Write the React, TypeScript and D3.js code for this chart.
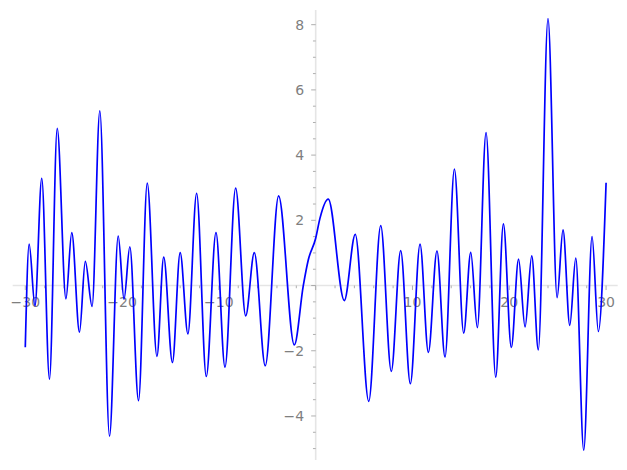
import React from 'react'
import * as d3 from 'd3'

// extrema and a few shoulder points
const xs = [
  -30.0, -29.6, -29.0, -28.3, -27.5, -26.7, -25.8, -25.2, -24.4, -23.8, -23.1, -22.3,
  -21.3, -20.4, -19.8, -19.2, -18.3, -17.4, -16.4, -15.7, -14.8, -14.0, -13.2, -12.3,
  -11.3, -10.3, -9.37, -8.27, -7.23, -6.34, -5.21, -3.83, -2.21, -1.28, -0.76, 0.0,
  0.44, 1.3, 2.96, 4.09, 5.48, 6.72, 7.81, 8.78, 9.78, 10.78, 11.64, 12.53, 13.36,
  14.33, 15.29, 16.02, 16.7, 17.6, 18.6, 19.39, 20.21, 20.96, 21.63, 22.32, 23.0,
  24.0, 24.94, 25.55, 26.25, 26.87, 27.69, 28.55, 29.2, 30.0,
]
const ys = [
  -1.89, 1.27, -0.62, 3.29, -2.87, 4.82, -0.41, 1.62, -1.43, 0.74, -0.64, 5.36,
  -4.62, 1.52, -0.42, 1.19, -3.53, 3.14, -2.17, 0.87, -2.36, 1.01, -1.48, 2.83,
  -2.79, 1.62, -2.5, 2.99, -0.93, 1.01, -2.46, 2.75, -1.82, 0.0, 0.79, 1.45,
  2.06, 2.65, -0.46, 1.57, -3.55, 1.84, -2.63, 1.07, -3.01, 1.27, -2.05, 1.06, -2.19,
  3.57, -1.46, 1.02, -1.29, 4.69, -2.81, 1.89, -1.9, 0.81, -1.27, 0.91, -1.97,
  8.19, -0.37, 1.71, -1.22, 0.84, -5.05, 1.5, -1.41, 3.15,
]

const xMajor = [-30, -20, -10, 10, 20, 30]
const yMajor = [-4, -2, 2, 4, 6, 8]

const W = 627
const H = 470
const axisColor = '#e5e5e5'
const tickColor = '#9a9a9a'
const labelColor = '#7f7f7f'
const font = '"DejaVu Sans", sans-serif'

export default function App() {
  const x = d3.scaleLinear().domain([-31.3, 31.2]).range([12.7, 617.7])
  const y = d3.scaleLinear().domain([-5.35, 8.45]).range([460, 10])

  const line = d3
    .line<number>()
    .x((_, i) => x(xs[i]))
    .y((d) => y(d))
    .curve(d3.curveMonotoneX)

  const x0 = x(0)
  const y0 = y(0)
  const xMinor = d3.range(-30, 31, 2)
  const yMinor = d3.range(-5, 8.01, 0.5)

  return (
    <svg
      width={W}
      height={H}
      style={{ position: 'absolute', left: 0, top: 0, background: '#fff' }}
    >
      {/* axes */}
      <line x1={x.range()[0]} x2={x.range()[1]} y1={y0} y2={y0} stroke={axisColor} strokeWidth={1.6} />
      <line x1={x0} x2={x0} y1={y.range()[0]} y2={y.range()[1]} stroke={axisColor} strokeWidth={1.6} />

      {xMinor.map((v) => {
        const major = v % 10 === 0
        return (
          <line key={'xt' + v} x1={x(v)} x2={x(v)} y1={y0} y2={y0 + (major ? 4.5 : 2.7)}
            stroke={tickColor} strokeWidth={0.8} />
        )
      })}
      {yMinor.map((v) => {
        const major = Math.abs(v % 2) < 1e-9
        return (
          <line key={'yt' + v} x1={x0} x2={x0 - (major ? 4.5 : 2.7)} y1={y(v)} y2={y(v)}
            stroke={tickColor} strokeWidth={0.8} />
        )
      })}

      {xMajor.map((v) => (
        <text key={'xl' + v} x={x(v)} y={y0 + 21.5} textAnchor="middle"
          fontFamily={font} fontSize={14} fill={labelColor}>
          {v < 0 ? '\u2212' + Math.abs(v) : v}
        </text>
      ))}
      {yMajor.map((v) => (
        <text key={'yl' + v} x={x0 - 11.5} y={y(v) + 5} textAnchor="end"
          fontFamily={font} fontSize={14} fill={labelColor}>
          {v < 0 ? '\u2212' + Math.abs(v) : v}
        </text>
      ))}

      <path d={line(ys) ?? ''} fill="none" stroke="#0000ff" strokeWidth={1.7} />
    </svg>
  )
}
